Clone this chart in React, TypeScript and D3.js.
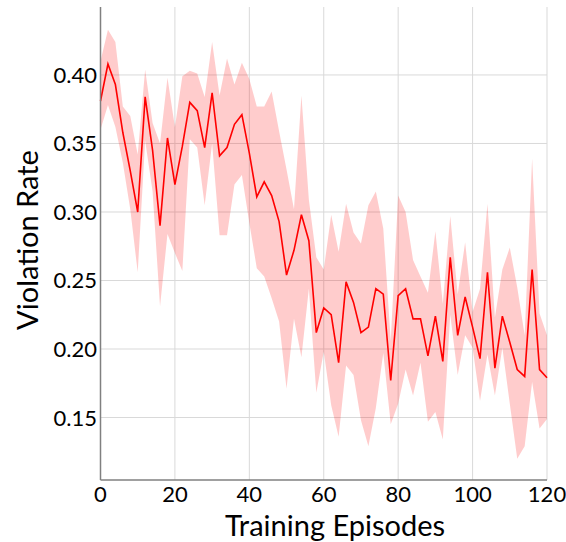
import React from "react";
import * as d3 from "d3";

const episodes = [0,2,4,6,8,10,12,14,16,18,20,22,24,26,28,30,32,34,36,38,40,42,44,46,48,50,52,54,56,58,60,62,64,66,68,70,72,74,76,78,80,82,84,86,88,90,92,94,96,98,100,102,104,106,108,110,112,114,116,118,120];

const meanRate = [0.381,0.408,0.393,0.358,0.330,0.300,0.384,0.345,0.290,0.354,0.320,0.348,0.380,0.374,0.347,0.387,0.341,0.347,0.364,0.371,0.343,0.311,0.322,0.312,0.293,0.254,0.272,0.298,0.279,0.212,0.230,0.225,0.190,0.249,0.234,0.212,0.216,0.244,0.240,0.177,0.239,0.244,0.222,0.222,0.195,0.224,0.191,0.267,0.210,0.238,0.216,0.193,0.256,0.186,0.224,0.205,0.185,0.180,0.258,0.185,0.179];

const upperRate = [0.410,0.433,0.424,0.377,0.370,0.342,0.404,0.365,0.350,0.398,0.362,0.399,0.403,0.401,0.384,0.424,0.385,0.412,0.393,0.409,0.397,0.377,0.377,0.388,0.359,0.331,0.302,0.385,0.309,0.267,0.258,0.298,0.271,0.306,0.285,0.277,0.305,0.315,0.288,0.206,0.312,0.300,0.265,0.253,0.241,0.286,0.233,0.297,0.240,0.278,0.227,0.244,0.306,0.223,0.258,0.274,0.245,0.210,0.339,0.226,0.210];

const lowerRate = [0.360,0.378,0.362,0.336,0.302,0.256,0.352,0.315,0.231,0.284,0.270,0.257,0.353,0.347,0.305,0.350,0.283,0.283,0.320,0.327,0.292,0.259,0.253,0.237,0.220,0.171,0.222,0.194,0.244,0.168,0.198,0.159,0.136,0.188,0.181,0.148,0.129,0.157,0.197,0.145,0.160,0.185,0.166,0.190,0.147,0.154,0.134,0.225,0.181,0.210,0.201,0.162,0.196,0.166,0.201,0.160,0.120,0.129,0.176,0.142,0.149];

const xTicks = [0,20,40,60,80,100,120];
const yTicks = [0.15,0.20,0.25,0.30,0.35,0.40];

const W = 566, H = 542;
const left = 100.5, right = 547, top = 7, bottom = 480;
const FONT = "Lato, 'Open Sans', sans-serif";

export default function App() {
  const x = d3.scaleLinear().domain([0, 120]).range([left, right]);
  const y = d3.scaleLinear().domain([0.1044, 0.4496]).range([bottom, top]);
  const idx = d3.range(episodes.length);
  const area = d3.area<number>()
    .x(i => x(episodes[i]))
    .y0(i => y(lowerRate[i]))
    .y1(i => y(upperRate[i]));
  const line = d3.line<number>()
    .x(i => x(episodes[i]))
    .y(i => y(meanRate[i]));

  return (
    <svg width={W} height={H} style={{ position: "absolute", left: 0, top: 0, background: "#fff" }}>
      <rect x={0} y={0} width={W} height={H} fill="#fff" />
      {xTicks.map(t => (
        <line key={"gx" + t} x1={x(t)} x2={x(t)} y1={top} y2={bottom} stroke="#d9d9d9" strokeWidth={1} />
      ))}
      {yTicks.map(t => (
        <line key={"gy" + t} x1={left} x2={right} y1={y(t)} y2={y(t)} stroke="#d9d9d9" strokeWidth={1} />
      ))}
      <path d={area(idx) || ""} fill="rgba(255,0,0,0.2)" stroke="none" />
      <path d={line(idx) || ""} fill="none" stroke="#ff0000" strokeWidth={1.6} strokeLinejoin="miter" />
      <line x1={left} x2={left} y1={top} y2={bottom} stroke="#808080" strokeWidth={1.5} />
      <line x1={left} x2={right} y1={bottom} y2={bottom} stroke="#808080" strokeWidth={1.5} />
      {xTicks.map(t => (
        <text key={"tx" + t} x={x(t)} y={501.5} textAnchor="middle" fontFamily={FONT} fontSize={22} fill="#000">{t}</text>
      ))}
      {yTicks.map(t => (
        <text key={"ty" + t} x={97} y={y(t) + 8} textAnchor="end" fontFamily={FONT} fontSize={22} fill="#000">{t.toFixed(2)}</text>
      ))}
      <text x={335} y={536} textAnchor="middle" fontFamily={FONT} fontSize={29} fill="#000">Training Episodes</text>
      <text transform={`translate(38,240) rotate(-90)`} textAnchor="middle" fontFamily={FONT} fontSize={29} fill="#000">Violation Rate</text>
    </svg>
  );
}
